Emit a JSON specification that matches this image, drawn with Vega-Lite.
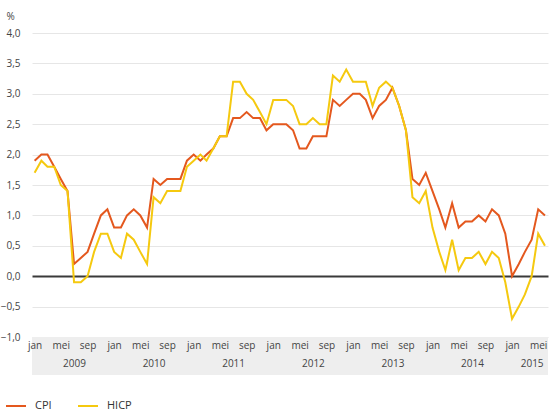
{
  "$schema": "https://vega.github.io/schema/vega-lite/v6.json",
  "width": 516,
  "height": 304,
  "autosize": {"type": "none"},
  "padding": {"left": 32, "top": 33, "right": 11, "bottom": 83},
  "config": {"view": {"stroke": null}, "font": "Open Sans"},
  "layer": [
    {
      "data": {"values": [{}]},
      "mark": {"type": "rect", "color": "#eeeeee"},
      "encoding": {
        "x": {
          "datum": {"year": 2008, "month": 12, "date": 20, "utc": true},
          "type": "temporal",
          "scale": {
            "type": "utc",
            "domain": [
              {"year": 2008, "month": 12, "date": 20, "utc": true},
              {"year": 2015, "month": 6, "date": 15, "utc": true}
            ]
          },
          "axis": {
            "title": null,
            "values": [
              {"year": 2009, "month": 1, "date": 1, "utc": true},
              {"year": 2009, "month": 5, "date": 1, "utc": true},
              {"year": 2009, "month": 7, "date": 1, "utc": true},
              {"year": 2009, "month": 9, "date": 1, "utc": true},
              {"year": 2010, "month": 1, "date": 1, "utc": true},
              {"year": 2010, "month": 5, "date": 1, "utc": true},
              {"year": 2010, "month": 7, "date": 1, "utc": true},
              {"year": 2010, "month": 9, "date": 1, "utc": true},
              {"year": 2011, "month": 1, "date": 1, "utc": true},
              {"year": 2011, "month": 5, "date": 1, "utc": true},
              {"year": 2011, "month": 7, "date": 1, "utc": true},
              {"year": 2011, "month": 9, "date": 1, "utc": true},
              {"year": 2012, "month": 1, "date": 1, "utc": true},
              {"year": 2012, "month": 5, "date": 1, "utc": true},
              {"year": 2012, "month": 7, "date": 1, "utc": true},
              {"year": 2012, "month": 9, "date": 1, "utc": true},
              {"year": 2013, "month": 1, "date": 1, "utc": true},
              {"year": 2013, "month": 5, "date": 1, "utc": true},
              {"year": 2013, "month": 7, "date": 1, "utc": true},
              {"year": 2013, "month": 9, "date": 1, "utc": true},
              {"year": 2014, "month": 1, "date": 1, "utc": true},
              {"year": 2014, "month": 5, "date": 1, "utc": true},
              {"year": 2014, "month": 7, "date": 1, "utc": true},
              {"year": 2014, "month": 9, "date": 1, "utc": true},
              {"year": 2015, "month": 1, "date": 1, "utc": true},
              {"year": 2015, "month": 4, "date": 1, "utc": true},
              {"year": 2015, "month": 5, "date": 1, "utc": true}
            ],
            "labelExpr": "indexof([0, 4, 8], utcmonth(datum.value)) >= 0 ? ['jan','feb','mrt','apr','mei','jun','jul','aug','sep','okt','nov','dec'][utcmonth(datum.value)] : ['', '' + utcyear(datum.value)]",
            "grid": false,
            "ticks": false,
            "domain": false,
            "labelOverlap": false,
            "labelFlush": false,
            "labelPadding": 3,
            "labelBaseline": "top",
            "labelLineHeight": 18,
            "labelFontSize": 10,
            "labelColor": "#444444",
            "zindex": 1
          }
        },
        "x2": {"datum": {"year": 2015, "month": 6, "date": 15, "utc": true}},
        "y": {
          "datum": -1,
          "type": "quantitative",
          "scale": {"domain": [-1, 4], "nice": false, "zero": false},
          "axis": {
            "title": "%",
            "titleAngle": 0,
            "titleAlign": "left",
            "titleBaseline": "middle",
            "titleX": -26,
            "titleY": -17,
            "titleFontSize": 10,
            "titleFontWeight": "normal",
            "titleColor": "#444444",
            "values": [-1, -0.5, 0, 0.5, 1, 1.5, 2, 2.5, 3, 3.5, 4],
            "labelExpr": "replace(format(datum.value, '.1f'), '.', ',')",
            "labelOverlap": false,
            "grid": true,
            "ticks": false,
            "domain": false,
            "gridColor": {"condition": {"test": "datum.value === 0", "value": "#3a3a3a"}, "value": "#e6e6e6"},
            "gridWidth": {"condition": {"test": "datum.value === 0", "value": 2}, "value": 1},
            "labelPadding": 12,
            "labelFontSize": 10,
            "labelColor": "#444444"
          }
        },
        "y2": {"datum": -1.625}
      }
    },
    {
      "data": {
        "values": [
          {"maand": "2009-01", "CPI": 1.9, "HICP": 1.7},
          {"maand": "2009-02", "CPI": 2.0, "HICP": 1.9},
          {"maand": "2009-03", "CPI": 2.0, "HICP": 1.8},
          {"maand": "2009-04", "CPI": 1.8, "HICP": 1.8},
          {"maand": "2009-05", "CPI": 1.6, "HICP": 1.5},
          {"maand": "2009-06", "CPI": 1.4, "HICP": 1.4},
          {"maand": "2009-07", "CPI": 0.2, "HICP": -0.1},
          {"maand": "2009-08", "CPI": 0.3, "HICP": -0.1},
          {"maand": "2009-09", "CPI": 0.4, "HICP": 0.0},
          {"maand": "2009-10", "CPI": 0.7, "HICP": 0.4},
          {"maand": "2009-11", "CPI": 1.0, "HICP": 0.7},
          {"maand": "2009-12", "CPI": 1.1, "HICP": 0.7},
          {"maand": "2010-01", "CPI": 0.8, "HICP": 0.4},
          {"maand": "2010-02", "CPI": 0.8, "HICP": 0.3},
          {"maand": "2010-03", "CPI": 1.0, "HICP": 0.7},
          {"maand": "2010-04", "CPI": 1.1, "HICP": 0.6},
          {"maand": "2010-05", "CPI": 1.0, "HICP": 0.4},
          {"maand": "2010-06", "CPI": 0.8, "HICP": 0.2},
          {"maand": "2010-07", "CPI": 1.6, "HICP": 1.3},
          {"maand": "2010-08", "CPI": 1.5, "HICP": 1.2},
          {"maand": "2010-09", "CPI": 1.6, "HICP": 1.4},
          {"maand": "2010-10", "CPI": 1.6, "HICP": 1.4},
          {"maand": "2010-11", "CPI": 1.6, "HICP": 1.4},
          {"maand": "2010-12", "CPI": 1.9, "HICP": 1.8},
          {"maand": "2011-01", "CPI": 2.0, "HICP": 1.9},
          {"maand": "2011-02", "CPI": 1.9, "HICP": 2.0},
          {"maand": "2011-03", "CPI": 2.0, "HICP": 1.9},
          {"maand": "2011-04", "CPI": 2.1, "HICP": 2.1},
          {"maand": "2011-05", "CPI": 2.3, "HICP": 2.3},
          {"maand": "2011-06", "CPI": 2.3, "HICP": 2.3},
          {"maand": "2011-07", "CPI": 2.6, "HICP": 3.2},
          {"maand": "2011-08", "CPI": 2.6, "HICP": 3.2},
          {"maand": "2011-09", "CPI": 2.7, "HICP": 3.0},
          {"maand": "2011-10", "CPI": 2.6, "HICP": 2.9},
          {"maand": "2011-11", "CPI": 2.6, "HICP": 2.7},
          {"maand": "2011-12", "CPI": 2.4, "HICP": 2.5},
          {"maand": "2012-01", "CPI": 2.5, "HICP": 2.9},
          {"maand": "2012-02", "CPI": 2.5, "HICP": 2.9},
          {"maand": "2012-03", "CPI": 2.5, "HICP": 2.9},
          {"maand": "2012-04", "CPI": 2.4, "HICP": 2.8},
          {"maand": "2012-05", "CPI": 2.1, "HICP": 2.5},
          {"maand": "2012-06", "CPI": 2.1, "HICP": 2.5},
          {"maand": "2012-07", "CPI": 2.3, "HICP": 2.6},
          {"maand": "2012-08", "CPI": 2.3, "HICP": 2.5},
          {"maand": "2012-09", "CPI": 2.3, "HICP": 2.5},
          {"maand": "2012-10", "CPI": 2.9, "HICP": 3.3},
          {"maand": "2012-11", "CPI": 2.8, "HICP": 3.2},
          {"maand": "2012-12", "CPI": 2.9, "HICP": 3.4},
          {"maand": "2013-01", "CPI": 3.0, "HICP": 3.2},
          {"maand": "2013-02", "CPI": 3.0, "HICP": 3.2},
          {"maand": "2013-03", "CPI": 2.9, "HICP": 3.2},
          {"maand": "2013-04", "CPI": 2.6, "HICP": 2.8},
          {"maand": "2013-05", "CPI": 2.8, "HICP": 3.1},
          {"maand": "2013-06", "CPI": 2.9, "HICP": 3.2},
          {"maand": "2013-07", "CPI": 3.1, "HICP": 3.1},
          {"maand": "2013-08", "CPI": 2.8, "HICP": 2.8},
          {"maand": "2013-09", "CPI": 2.4, "HICP": 2.4},
          {"maand": "2013-10", "CPI": 1.6, "HICP": 1.3},
          {"maand": "2013-11", "CPI": 1.5, "HICP": 1.2},
          {"maand": "2013-12", "CPI": 1.7, "HICP": 1.4},
          {"maand": "2014-01", "CPI": 1.4, "HICP": 0.8},
          {"maand": "2014-02", "CPI": 1.1, "HICP": 0.4},
          {"maand": "2014-03", "CPI": 0.8, "HICP": 0.1},
          {"maand": "2014-04", "CPI": 1.2, "HICP": 0.6},
          {"maand": "2014-05", "CPI": 0.8, "HICP": 0.1},
          {"maand": "2014-06", "CPI": 0.9, "HICP": 0.3},
          {"maand": "2014-07", "CPI": 0.9, "HICP": 0.3},
          {"maand": "2014-08", "CPI": 1.0, "HICP": 0.4},
          {"maand": "2014-09", "CPI": 0.9, "HICP": 0.2},
          {"maand": "2014-10", "CPI": 1.1, "HICP": 0.4},
          {"maand": "2014-11", "CPI": 1.0, "HICP": 0.3},
          {"maand": "2014-12", "CPI": 0.7, "HICP": -0.1},
          {"maand": "2015-01", "CPI": 0.0, "HICP": -0.7},
          {"maand": "2015-02", "CPI": 0.2, "HICP": -0.5},
          {"maand": "2015-03", "CPI": 0.4, "HICP": -0.3},
          {"maand": "2015-04", "CPI": 0.6, "HICP": 0.0},
          {"maand": "2015-05", "CPI": 1.1, "HICP": 0.7},
          {"maand": "2015-06", "CPI": 1.0, "HICP": 0.5}
        ]
      },
      "transform": [{"fold": ["CPI", "HICP"], "as": ["reeks", "waarde"]}],
      "mark": {"type": "line", "strokeWidth": 2},
      "encoding": {
        "x": {
          "field": "maand",
          "type": "temporal",
          "scale": {
            "type": "utc",
            "domain": [
              {"year": 2008, "month": 12, "date": 20, "utc": true},
              {"year": 2015, "month": 6, "date": 15, "utc": true}
            ]
          },
          "axis": {
            "title": null,
            "values": [
              {"year": 2009, "month": 1, "date": 1, "utc": true},
              {"year": 2009, "month": 5, "date": 1, "utc": true},
              {"year": 2009, "month": 7, "date": 1, "utc": true},
              {"year": 2009, "month": 9, "date": 1, "utc": true},
              {"year": 2010, "month": 1, "date": 1, "utc": true},
              {"year": 2010, "month": 5, "date": 1, "utc": true},
              {"year": 2010, "month": 7, "date": 1, "utc": true},
              {"year": 2010, "month": 9, "date": 1, "utc": true},
              {"year": 2011, "month": 1, "date": 1, "utc": true},
              {"year": 2011, "month": 5, "date": 1, "utc": true},
              {"year": 2011, "month": 7, "date": 1, "utc": true},
              {"year": 2011, "month": 9, "date": 1, "utc": true},
              {"year": 2012, "month": 1, "date": 1, "utc": true},
              {"year": 2012, "month": 5, "date": 1, "utc": true},
              {"year": 2012, "month": 7, "date": 1, "utc": true},
              {"year": 2012, "month": 9, "date": 1, "utc": true},
              {"year": 2013, "month": 1, "date": 1, "utc": true},
              {"year": 2013, "month": 5, "date": 1, "utc": true},
              {"year": 2013, "month": 7, "date": 1, "utc": true},
              {"year": 2013, "month": 9, "date": 1, "utc": true},
              {"year": 2014, "month": 1, "date": 1, "utc": true},
              {"year": 2014, "month": 5, "date": 1, "utc": true},
              {"year": 2014, "month": 7, "date": 1, "utc": true},
              {"year": 2014, "month": 9, "date": 1, "utc": true},
              {"year": 2015, "month": 1, "date": 1, "utc": true},
              {"year": 2015, "month": 4, "date": 1, "utc": true},
              {"year": 2015, "month": 5, "date": 1, "utc": true}
            ],
            "labelExpr": "indexof([0, 4, 8], utcmonth(datum.value)) >= 0 ? ['jan','feb','mrt','apr','mei','jun','jul','aug','sep','okt','nov','dec'][utcmonth(datum.value)] : ['', '' + utcyear(datum.value)]",
            "grid": false,
            "ticks": false,
            "domain": false,
            "labelOverlap": false,
            "labelFlush": false,
            "labelPadding": 3,
            "labelBaseline": "top",
            "labelLineHeight": 18,
            "labelFontSize": 10,
            "labelColor": "#444444",
            "zindex": 1
          }
        },
        "y": {
          "field": "waarde",
          "type": "quantitative",
          "scale": {"domain": [-1, 4], "nice": false, "zero": false},
          "axis": {
            "title": "%",
            "titleAngle": 0,
            "titleAlign": "left",
            "titleBaseline": "middle",
            "titleX": -26,
            "titleY": -17,
            "titleFontSize": 10,
            "titleFontWeight": "normal",
            "titleColor": "#444444",
            "values": [-1, -0.5, 0, 0.5, 1, 1.5, 2, 2.5, 3, 3.5, 4],
            "labelExpr": "replace(format(datum.value, '.1f'), '.', ',')",
            "labelOverlap": false,
            "grid": true,
            "ticks": false,
            "domain": false,
            "gridColor": {"condition": {"test": "datum.value === 0", "value": "#3a3a3a"}, "value": "#e6e6e6"},
            "gridWidth": {"condition": {"test": "datum.value === 0", "value": 2}, "value": 1},
            "labelPadding": 12,
            "labelFontSize": 10,
            "labelColor": "#444444"
          }
        },
        "color": {
          "field": "reeks",
          "type": "nominal",
          "scale": {"domain": ["CPI", "HICP"], "range": ["#E4581E", "#F5C90F"]},
          "legend": {
            "title": null,
            "orient": "none",
            "legendX": -27,
            "legendY": 362,
            "direction": "horizontal",
            "symbolType": "stroke",
            "symbolSize": 400,
            "symbolStrokeWidth": 2,
            "labelFontSize": 11,
            "labelColor": "#333333",
            "labelOffset": 8,
            "columnPadding": 22
          }
        }
      }
    }
  ]
}
